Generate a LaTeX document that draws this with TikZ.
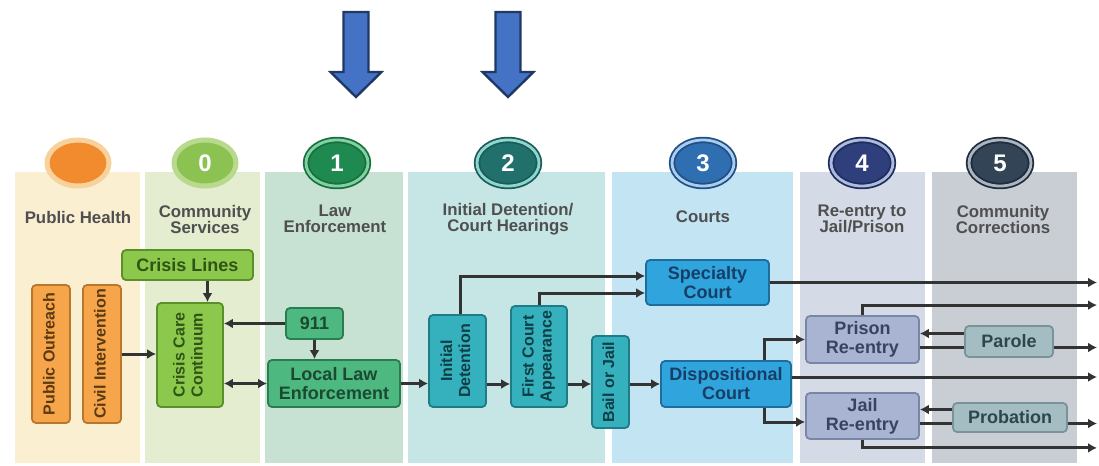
\documentclass[tikz,border=0pt]{standalone}
\usepackage{graphicx}
\usepackage{fontspec}
\setmainfont{Liberation Sans}
\usetikzlibrary{arrows.meta,positioning,shapes.geometric}

% band colours
\definecolor{phband}{HTML}{FBEFD2}
\definecolor{csband}{HTML}{E4EDD0}
\definecolor{leband}{HTML}{C7E1D2}
\definecolor{idband}{HTML}{C5E6E4}
\definecolor{ctband}{HTML}{C3E4F3}
\definecolor{reband}{HTML}{D4DAE6}
\definecolor{ccband}{HTML}{C9CED5}
% box colours
\definecolor{phfill}{HTML}{F6A54B}\definecolor{phline}{HTML}{B9772E}\definecolor{phtext}{HTML}{5B3A12}
\definecolor{csfill}{HTML}{8CC84B}\definecolor{csline}{HTML}{5A8F2A}\definecolor{cstext}{HTML}{2E5416}
\definecolor{lefill}{HTML}{4DB880}\definecolor{leline}{HTML}{2B7D50}\definecolor{letext}{HTML}{1B4A30}
\definecolor{idfill}{HTML}{35B1BD}\definecolor{idline}{HTML}{1F7C87}\definecolor{idtext}{HTML}{103E45}
\definecolor{ctfill}{HTML}{2FA4DD}\definecolor{ctline}{HTML}{1F6D9B}\definecolor{cttext}{HTML}{163E66}
\definecolor{refill}{HTML}{A8B4D2}\definecolor{reline}{HTML}{7A86A8}\definecolor{retext}{HTML}{3A4262}
\definecolor{ccfill}{HTML}{A3BDC3}\definecolor{ccline}{HTML}{7A9399}\definecolor{cctext}{HTML}{2E454B}
% stage mark colours
\definecolor{phring}{HTML}{F7D29C}\definecolor{phcore}{HTML}{F28A2E}
\definecolor{csring}{HTML}{B9DA8E}\definecolor{cscore}{HTML}{8CC252}
\definecolor{leout}{HTML}{1A6E40}\definecolor{lelight}{HTML}{7FD3A0}\definecolor{lecore}{HTML}{1F8A4F}
\definecolor{idout}{HTML}{1A5C5A}\definecolor{idlight}{HTML}{8ED6CE}\definecolor{idcore}{HTML}{22706C}
\definecolor{ctout}{HTML}{1F4F86}\definecolor{ctlight}{HTML}{A8CDEE}\definecolor{ctcore}{HTML}{2F6FB1}
\definecolor{reout}{HTML}{1E2D5C}\definecolor{relight}{HTML}{AEBBE0}\definecolor{recore}{HTML}{2E3F7C}
\definecolor{ccout}{HTML}{1F2C39}\definecolor{cclight}{HTML}{A9B5C3}\definecolor{cccore}{HTML}{324456}
\definecolor{flowgray}{HTML}{333333}
\definecolor{hdgray}{HTML}{4F4F4F}
\definecolor{arrowfill}{HTML}{4472C4}
\definecolor{arrowline}{HTML}{1F3864}

\newcommand{\vlabel}[1]{\rotatebox{90}{\begin{tabular}{@{}c@{}}#1\end{tabular}}}

\tikzset{
  box/.style={draw, rounded corners=2pt, line width=0.9pt, align=center, inner sep=1pt,
    font=\bfseries\fontsize{9}{9.5}\selectfont},
  vbox/.style={box, font=\bfseries\fontsize{8}{9}\selectfont},
  phbox/.style={fill=phfill, draw=phline, text=phtext},
  csbox/.style={fill=csfill, draw=csline, text=cstext},
  lebox/.style={fill=lefill, draw=leline, text=letext},
  idbox/.style={fill=idfill, draw=idline, text=idtext},
  ctbox/.style={fill=ctfill, draw=ctline, text=cttext},
  rebox/.style={fill=refill, draw=reline, text=retext},
  ccbox/.style={fill=ccfill, draw=ccline, text=cctext},
  flow/.style={draw=flowgray, line width=1.5pt, ->},
  link/.style={draw=flowgray, line width=1.5pt},
  header/.style={align=center, text=hdgray, font=\bfseries\fontsize{8.4}{8}\selectfont},
  stage/.style={ellipse, minimum width=31pt, minimum height=23pt, inner sep=0pt,
    text=white, font=\bfseries\fontsize{12}{12}\selectfont},
  plain/.style 2 args={stage, draw=#1, line width=2.5pt, fill=#2},
  ring/.style n args={3}{stage, draw=#1, line width=0.9pt, double=#2, double distance=1.4pt, fill=#3},
  bigarrow/.style={fill=arrowfill, draw=arrowline, line width=1.2pt, line join=miter},
}

\begin{document}
\begin{tikzpicture}[x=0.5pt, y=-0.5pt, >={Latex[length=4.5pt,width=5pt]}]
    \useasboundingbox (0,0) rectangle (1099,466);

    % stage bands
    \foreach \l/\r/\c in {15/140/phband, 145/260/csband, 265/403/leband, 408/605/idband,
                          612/793/ctband, 800/925/reband, 932/1077/ccband}
    \fill[\c] (\l,172) rectangle (\r,463);

    % arrows on top
    \foreach \x in {356,508}
    \draw[bigarrow] (\x-12.5,12) -- (\x+12.5,12) -- (\x+12.5,72) -- (\x+25.5,72)
        -- (\x,97) -- (\x-25.5,72) -- (\x-12.5,72) -- cycle;

    % stage marks
    \node[plain={phring}{phcore}] (stageph) at (78,163) {};
    \node[plain={csring}{cscore}] (stage0) at (205,163) {0};
    \node[ring={leout}{lelight}{lecore}] (stage1) at (337,163) {1};
    \node[ring={idout}{idlight}{idcore}] (stage2) at (508,163) {2};
    \node[ring={ctout}{ctlight}{ctcore}] (stage3) at (703,163) {3};
    \node[ring={reout}{relight}{recore}] (stage4) at (862,163) {4};
    \node[ring={ccout}{cclight}{cccore}] (stage5) at (1000,163) {5};

    \node[header] (hdph) at (78,217) {Public Health};
    \node[header] (hdcs) at (205,219) {Community\\Services};
    \node[header] (hdle) at (335,219) {Law\\Enforcement};
    \node[header] (hdid) at (508,219) {Initial Detention/\\Court Hearings};
    \node[header] (hdct) at (703,217) {Courts};
    \node[header] (hdre) at (862,219) {Re-entry to\\Jail/Prison};
    \node[header] (hdcc) at (1003,219) {Community\\Corrections};

    % boxes
    \node[vbox, phbox, minimum width=19pt, minimum height=69pt] (outreach) at (51,354) {\vlabel{Public Outreach}};
    \node[vbox, phbox, minimum width=19pt, minimum height=69pt] (civil) at (102,354) {\vlabel{Civil Intervention}};
    \node[box, csbox, minimum width=65.5pt, minimum height=15pt] (crisislines) at (187.5,265) {Crisis Lines};
    \node[vbox, csbox, minimum width=33pt, minimum height=52pt] (crisiscare) at (190,355) {\vlabel{Crisis Care\\Continuum}};
    \node[box, lebox, minimum width=28.5pt, minimum height=15.5pt] (call911) at (314.5,323.5) {911};
    \node[box, lebox, minimum width=66pt, minimum height=23.5pt] (locallaw) at (334,383.5) {Local Law\\Enforcement};
    \node[vbox, idbox, minimum width=28.5pt, minimum height=46pt] (initdet) at (457.5,361) {\vlabel{Initial\\Detention}};
    \node[vbox, idbox, minimum width=28pt, minimum height=50.5pt] (firstcourt) at (539,356.5) {\vlabel{First Court\\Appearance}};
    \node[vbox, idbox, minimum width=18.5pt, minimum height=46pt] (bailjail) at (610.5,382) {\vlabel{Bail or Jail}};
    \node[box, ctbox, minimum width=61.5pt, minimum height=22.5pt] (specialty) at (707.5,282.5) {Specialty\\Court};
    \node[box, ctbox, minimum width=65pt, minimum height=23pt] (dispo) at (726,384) {Dispositional\\Court};
    \node[box, rebox, minimum width=56.5pt, minimum height=23.5pt] (prison) at (862.5,339.5) {Prison\\Re-entry};
    \node[box, ccbox, minimum width=44pt, minimum height=15.5pt] (parole) at (1009,341.5) {Parole};
    \node[box, rebox, minimum width=56.5pt, minimum height=23pt] (jail) at (862.5,416) {Jail\\Re-entry};
    \node[box, ccbox, minimum width=57pt, minimum height=14.5pt] (probation) at (1010,417.5) {Probation};

    \coordinate (edge) at (1097,0);

    % connectors
    \draw[flow] (civil.east) -- (civil.east -| crisiscare.west);
    \draw[flow] ([xshift=10pt]crisislines.south) -- ([xshift=10pt]crisislines.south |- crisiscare.north);
    \draw[flow] (call911.west) -- (call911.west -| crisiscare.east);
    \draw[flow] (call911.south) -- (call911.south |- locallaw.north);
    \draw[link, <->] (crisiscare.east |- locallaw.west) -- (locallaw.west);
    \draw[flow] (locallaw.east) -- (locallaw.east -| initdet.west);
    \draw[flow] (initdet.east |- dispo.west) -- (firstcourt.west |- dispo.west);
    \draw[flow] (firstcourt.east |- dispo.west) -- (bailjail.west |- dispo.west);
    \draw[flow] (bailjail.east |- dispo.west) -- (dispo.west);
    \draw[flow] ([xshift=1.25pt]initdet.north) |- ([yshift=3.25pt]specialty.west);
    \draw[flow] (firstcourt.north) |- ([yshift=-5.25pt]specialty.west);
    \draw[flow] (specialty.east) -- (specialty.east -| edge);
    \draw[flow] ([xshift=19pt]dispo.north) |- (prison.west);
    \draw[flow] ([xshift=19pt]dispo.south) |- ([yshift=-3pt]jail.west);
    \draw[flow] ([yshift=3.5pt]dispo.east) -- ([yshift=3.5pt]dispo.east -| edge);
    \draw[flow] (prison.north) |- ([yshift=5pt]prison.north -| edge);
    \draw[flow] ([yshift=4pt]parole.west) -- ([yshift=4pt]parole.west -| prison.east);
    \draw[link] ([yshift=-3pt]parole.west -| prison.east) -- ([yshift=-3pt]parole.west);
    \draw[flow] ([yshift=-3pt]parole.east) -- ([yshift=-3pt]parole.east -| edge);
    \draw[flow] ([yshift=4pt]probation.west) -- ([yshift=4pt]probation.west -| jail.east);
    \draw[link] ([yshift=-3pt]probation.west -| jail.east) -- ([yshift=-3pt]probation.west);
    \draw[flow] ([yshift=-3pt]probation.east) -- ([yshift=-3pt]probation.east -| edge);
    \draw[flow] (jail.south) |- ([yshift=-4pt]jail.south -| edge);
\end{tikzpicture}
\end{document}
